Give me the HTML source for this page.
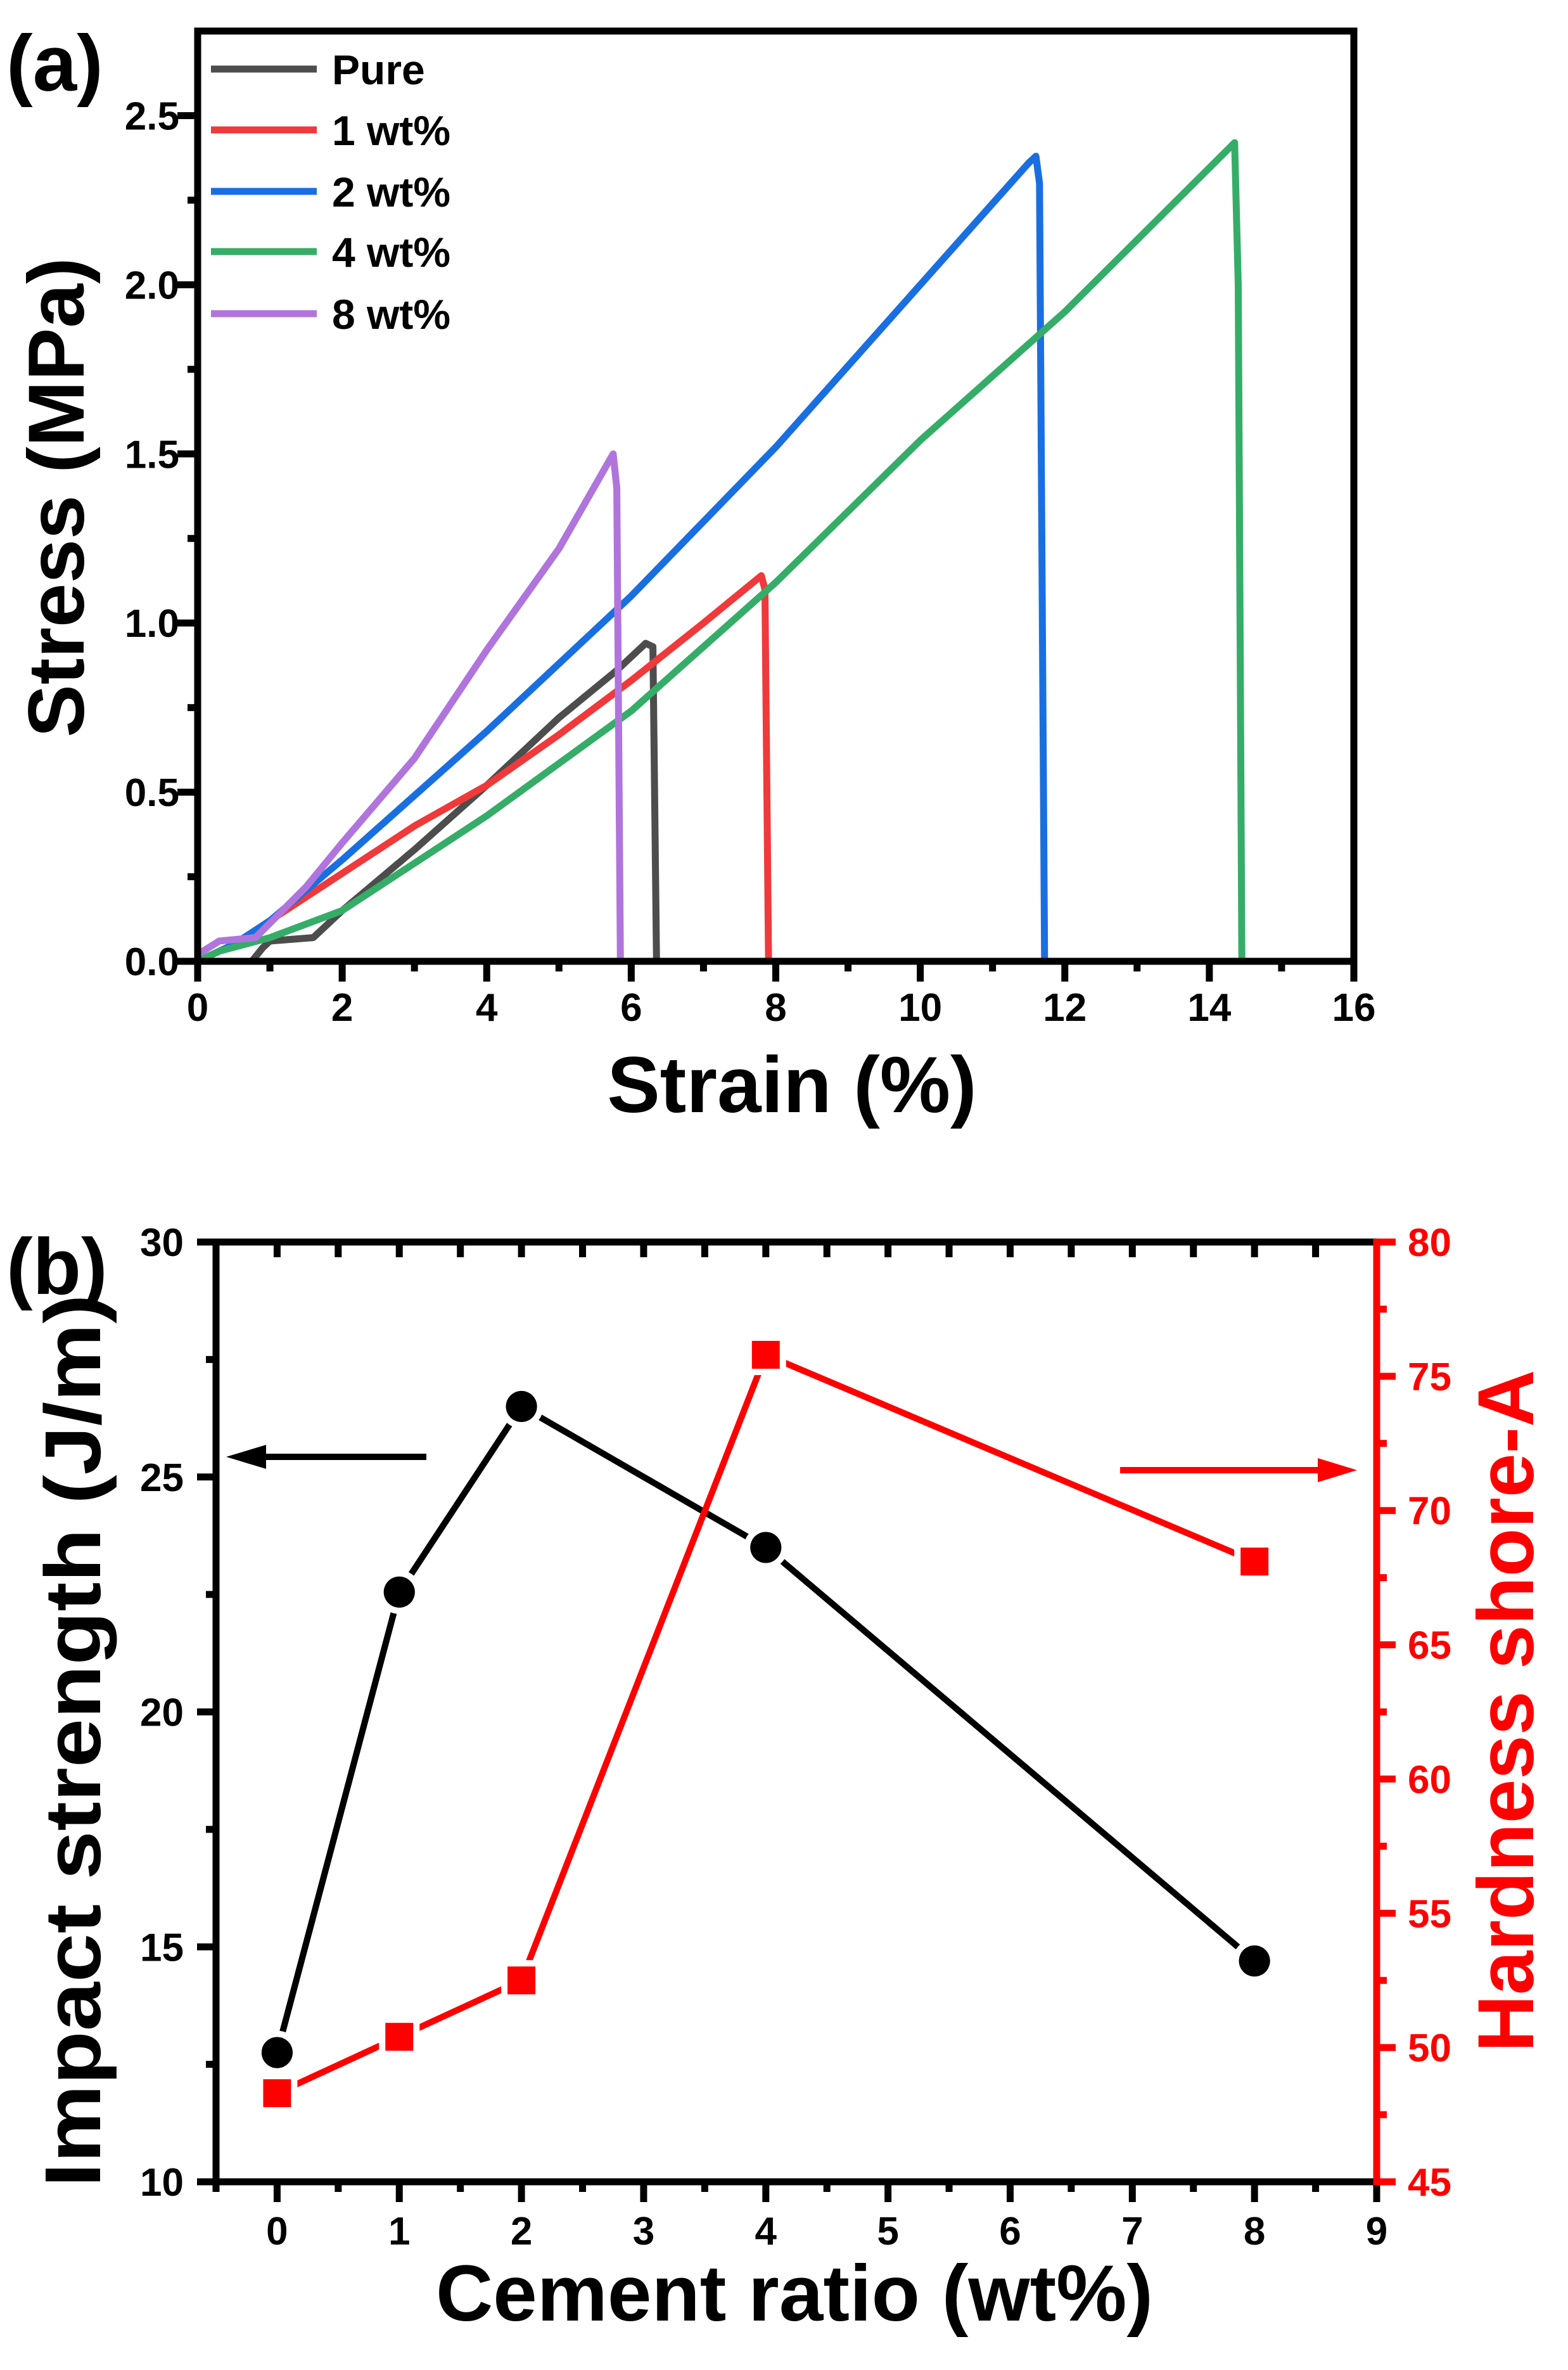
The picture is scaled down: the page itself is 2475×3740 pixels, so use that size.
<!DOCTYPE html>
<html><head><meta charset="utf-8"><style>
html,body{margin:0;padding:0;background:#fff;}
svg{display:block;}
text{font-family:"Liberation Sans",Arial,sans-serif;font-weight:bold;}
</style></head><body>
<svg id="s" width="2475" height="3740" viewBox="0 0 2475 3740" xmlns="http://www.w3.org/2000/svg">
<g id="a"></g>
<text x="10" y="143" font-size="125">(a)</text>
<text x="10" y="2042" font-size="125">(b)</text>
<text x="1250" y="1755" font-size="125" text-anchor="middle">Strain (%)</text>
<text transform="translate(132,785) rotate(-90)" font-size="125" text-anchor="middle">Stress (MPa)</text>
<text x="1254" y="3662" font-size="125" text-anchor="middle">Cement ratio (wt%)</text>
<text transform="translate(158,2747) rotate(-90)" font-size="125" text-anchor="middle" textLength="1409" lengthAdjust="spacingAndGlyphs">Impact strength (J/m)</text>
<text transform="translate(2420,2700) rotate(-90)" font-size="125" text-anchor="middle" fill="#ff0000">Hardness shore-A</text>
</svg>
<script>
var NS="http://www.w3.org/2000/svg",g=document.getElementById("a");
function el(t,a,txt){var e=document.createElementNS(NS,t);for(var k in a)e.setAttribute(k,a[k]);if(txt!=null)e.textContent=txt;g.appendChild(e);return e;}
function line(x1,y1,x2,y2,c,w){el("line",{x1:x1,y1:y1,x2:x2,y2:y2,stroke:c||"#000","stroke-width":w||11});}
var L=312,R=2137,T=49,B=1517;
function ax(v){return L+v*(R-L)/16;} function ay(v){return B-v*(B-T)/2.75;}
var series=[
["#4d4d4d",[[0.75,0],[0.9,0.04],[1,0.06],[1.6,0.07],[2,0.15],[3,0.33],[4,0.52],[5,0.72],[5.8,0.86],[6.2,0.94],[6.3,0.93],[6.35,0]]],
["#f0393b",[[0,0],[0.5,0.05],[1,0.12],[2,0.26],[3,0.4],[4,0.52],[5,0.67],[6,0.83],[7,1.0],[7.8,1.14],[7.85,1.1],[7.9,0]]],
["#1a6fe0",[[0,0],[0.5,0.05],[1,0.12],[2,0.3],[4,0.68],[6,1.08],[8,1.52],[10,2.0],[11.5,2.36],[11.6,2.38],[11.65,2.3],[11.72,0]]],
["#35ad68",[[0,0],[0.3,0.03],[1,0.07],[2,0.15],[4,0.43],[6,0.74],[8,1.12],[10,1.54],[12,1.92],[14.35,2.42],[14.4,2.0],[14.45,0]]],
["#b075dc",[[0,0.02],[0.3,0.06],[0.8,0.07],[1.5,0.22],[2,0.35],[3,0.6],[4,0.92],[5,1.22],[5.75,1.5],[5.8,1.4],[5.85,0]]]];
series.forEach(function(s){el("polyline",{points:s[1].map(function(p){return ax(p[0])+","+ay(p[1]);}).join(" "),fill:"none",stroke:s[0],"stroke-width":11,"stroke-linejoin":"round"});});
el("rect",{x:L,y:T,width:R-L,height:B-T,fill:"none",stroke:"#000","stroke-width":11});
for(var i=0;i<=16;i++){var x=ax(i);line(x,B,x,B+(i%2?16:32));if(i%2==0)el("text",{x:x,y:1611,"font-size":62,"text-anchor":"middle"},i);}
for(var j=0;j<=10;j++){var v=j*0.25,y=ay(v);line(L,y,L-(j%2?16:32),y);if(j%2==0)el("text",{x:283,y:y+22,"font-size":62,"text-anchor":"end"},v.toFixed(1));}
var names=["Pure","1 wt%","2 wt%","4 wt%","8 wt%"],ly=[109,205,302,397,495];
names.forEach(function(n,k){line(333,ly[k],500,ly[k],series[k][0],11);el("text",{x:524,y:ly[k]+24,"font-size":66},n);});
var L2=341,R2=2173,T2=1960,B2=3443;
function bx(v){return L2+(v+0.5)*(R2-L2)/9.5;} function byl(v){return B2-(v-10)*(B2-T2)/20;} function byr(v){return B2-(v-45)*(B2-T2)/35;}
var xs=[0,1,2,4,8],imp=[12.75,22.55,26.5,23.5,14.7],hd=[48.3,50.4,52.5,75.8,68.1];
el("polyline",{points:xs.map(function(x,k){return bx(x)+","+byl(imp[k]);}).join(" "),fill:"none",stroke:"#000","stroke-width":10});
el("polyline",{points:xs.map(function(x,k){return bx(x)+","+byr(hd[k]);}).join(" "),fill:"none",stroke:"#ff0000","stroke-width":10});
xs.forEach(function(x,k){el("circle",{cx:bx(x),cy:byl(imp[k]),r:24.5,fill:"#000",stroke:"#fff","stroke-width":20,"paint-order":"stroke"});});
xs.forEach(function(x,k){el("rect",{x:bx(x)-22,y:byr(hd[k])-22,width:44,height:44,fill:"#ff0000",stroke:"#fff","stroke-width":20,"paint-order":"stroke"});});
xs.forEach(function(x,k){el("circle",{cx:bx(x),cy:byl(imp[k]),r:24.5,fill:"#000"});});
line(L2,T2,R2,T2);line(L2,B2,R2,B2);line(L2,T2-5,L2,B2+5);
for(var i=-1;i<=18;i++){var v=i/2,x=bx(v);line(x,B2,x,B2+(i%2?16:32));line(x,T2,x,T2+24);if(i%2==0&&i>=0)el("text",{x:x,y:3542,"font-size":62,"text-anchor":"middle"},v);}
for(var j=0;j<=8;j++){var v=10+j*2.5,y=byl(v);line(L2,y,L2-(j%2?16:30),y);if(j%2==0)el("text",{x:290,y:y+22,"font-size":62,"text-anchor":"end"},v);}
line(R2,T2-5,R2,B2+5,"#ff0000");
for(var j=0;j<=14;j++){var v=45+j*2.5,y=byr(v);line(R2,y,R2+(j%2?16:30),y,"#ff0000");if(j%2==0)el("text",{x:2222,y:y+22,"font-size":62,fill:"#ff0000"},v);}
line(400,2299,673,2299,"#000",10);el("polygon",{points:"357,2299 420,2280 420,2318",fill:"#000"});
line(1768,2320,2095,2320,"#ff0000",10);el("polygon",{points:"2142,2320 2080,2301 2080,2339",fill:"#ff0000"});
</script>
</body></html>
